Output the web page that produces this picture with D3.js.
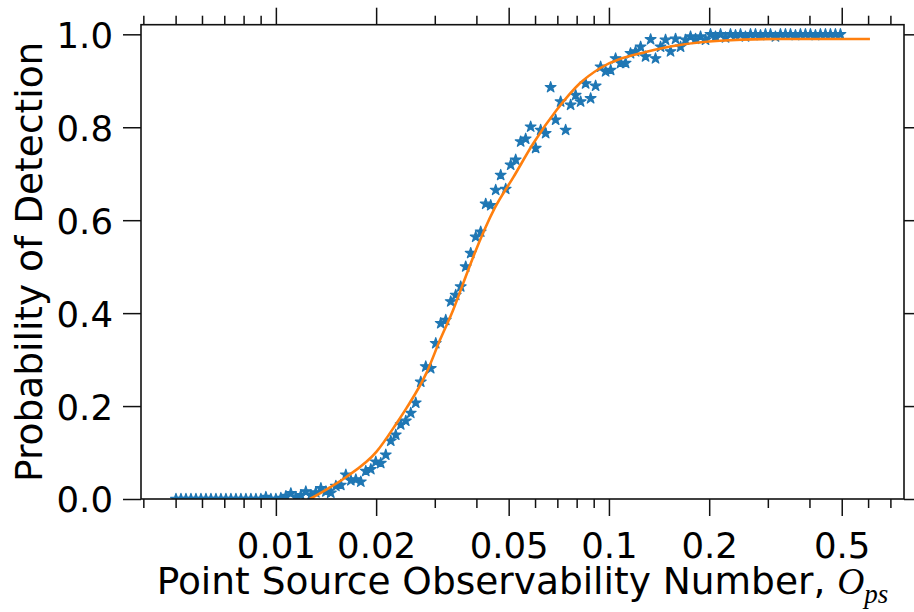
<!DOCTYPE html>
<html><head><meta charset="utf-8">
<script src="https://cdn.jsdelivr.net/npm/d3@7"></script>
<style>body{margin:0;background:#fff} svg text{font-family:"DejaVu Sans",sans-serif;fill:#000}</style>
</head><body><svg id="c" width="914" height="612"></svg>
<script>
// observed detection probability (stars)
const obsX = [0.005012,0.005188,0.005370,0.005559,0.005754,0.005957,0.006166,0.006383,0.006607,0.006839,
0.007079,0.007328,0.007586,0.007852,0.008128,0.008414,0.008710,0.009016,0.009333,0.009661,
0.01000,0.01035,0.01072,0.01109,0.01148,0.01189,0.01230,0.01274,0.01318,0.01365,
0.01413,0.01462,0.01514,0.01567,0.01622,0.01679,0.01738,0.01799,0.01862,0.01928,
0.01995,0.02065,0.02138,0.02213,0.02291,0.02371,0.02455,0.02541,0.02630,0.02723,
0.02818,0.02917,0.03020,0.03126,0.03236,0.03350,0.03467,0.03589,0.03715,0.03846,
0.03981,0.04121,0.04266,0.04416,0.04571,0.04732,0.04898,0.05070,0.05248,0.05433,
0.05623,0.05821,0.06026,0.06237,0.06457,0.06683,0.06918,0.07161,0.07413,0.07674,
0.07943,0.08222,0.08511,0.08811,0.09120,0.09441,0.09772,0.1012,0.1047,0.1084,
0.1122,0.1161,0.1202,0.1245,0.1288,0.1334,0.1380,0.1429,0.1479,0.1531,
0.1585,0.1641,0.1698,0.1758,0.1820,0.1884,0.1950,0.2018,0.2089,0.2163,
0.2239,0.2317,0.2399,0.2483,0.2570,0.2661,0.2754,0.2851,0.2951,0.3055,
0.3162,0.3273,0.3388,0.3508,0.3631,0.3758,0.3890,0.4027,0.4169,0.4315,
0.4467,0.4624,0.4786,0.4955];
const obsY = [0,0,0,0,0,0,0,0,0,0,
0,0,0,0,0,0,0,0,0.004,0,
0,0.002,0.006,0.012,0.004,0.008,0.016,0.008,0.014,0.023,
0.016,0.013,0.028,0.030,0.052,0.040,0.042,0.037,0.060,0.064,
0.080,0.077,0.095,0.125,0.138,0.160,0.168,0.185,0.207,0.252,
0.285,0.281,0.335,0.378,0.385,0.425,0.439,0.457,0.500,0.529,
0.564,0.575,0.635,0.632,0.665,0.697,0.667,0.719,0.730,0.769,
0.775,0.801,0.755,0.794,0.787,0.886,0.816,0.855,0.794,0.848,
0.869,0.855,0.894,0.862,0.889,0.930,0.920,0.923,0.948,0.938,
0.938,0.959,0.963,0.973,0.952,0.989,0.948,0.973,0.988,0.963,
0.990,0.973,0.988,0.995,0.990,0.995,0.988,1.0,0.995,1.0,
0.993,1.0,0.998,1.0,0.995,1.0,1.0,0.998,1.0,1.0,
0.995,1.0,1.0,1.0,0.998,1.0,1.0,1.0,0.998,1.0,
1.0,1.0,1.0,1.0];
// fitted curve (orange line)
const fitX = [0.01265,0.0143,0.01631,0.02006,0.02304,0.02469,0.02835,0.03109,0.03406,0.03651,
0.03913,0.04547,0.05161,0.05925,0.06965,0.08181,0.09397,0.1298,0.1633,0.2154,0.3263,0.6077];
const fitY = [0,0.022,0.048,0.102,0.163,0.196,0.272,0.342,0.4067,0.464,
0.521,0.627,0.692,0.765,0.837,0.8946,0.927,0.9626,0.977,0.986,0.990,0.990];

const xTickValues = [0.01,0.02,0.05,0.1,0.2,0.5];
const xTickLabels = ["0.01","0.02","0.05","0.1","0.2","0.5"];
const xMinorValues = [0.004,0.005,0.006,0.007,0.008,0.009,0.03,0.04,0.06,0.07,0.08,0.09,0.3,0.4,0.6,0.7];
const yTickValues = [0,0.2,0.4,0.6,0.8,1.0];
const yTickLabels = ["0.0","0.2","0.4","0.6","0.8","1.0"];
const xLabelText = "Point Source Observability Number, ";
const yLabelText = "Probability of Detection";

const L = 141, R = 904, T = 24.7, B = 499;
const svg = d3.select("#c");
const x = d3.scaleLog().domain([0.003936, 0.769]).range([L, R]);
const y = d3.scaleLinear().domain([0, 1.0207]).range([B, T]);

svg.append("defs").append("clipPath").attr("id","clip")
  .append("rect").attr("x",L).attr("y",T).attr("width",R-L).attr("height",B-T);

const plot = svg.append("g").attr("clip-path","url(#clip)");
const star = d3.symbol().type(d3.symbolStar).size(36);
plot.selectAll("path.s").data(obsX.map((v,i)=>[v,obsY[i]])).join("path")
  .attr("class","s")
  .attr("transform",d=>`translate(${x(d[0])},${y(d[1])})`)
  .attr("d",star)
  .attr("fill","#1f77b4").attr("stroke","#1f77b4").attr("stroke-width",1.2).attr("stroke-linejoin","round");

const line = d3.line().x(d=>x(d[0])).y(d=>y(d[1])).curve(d3.curveMonotoneX);
plot.append("path").datum(fitX.map((v,i)=>[v,fitY[i]]))
  .attr("d",line).attr("fill","none").attr("stroke","#ff7f0e").attr("stroke-width",2.6);

function styleAxis(g){
  g.select(".domain").remove();
  g.selectAll(".tick line").attr("stroke","#111").attr("stroke-width",1.5);
  g.selectAll("text").style("font-size","35.5px").attr("fill","#000");
}
// bottom
const bMaj = svg.append("g").attr("transform",`translate(0,${B})`)
  .call(d3.axisBottom(x).tickValues(xTickValues).tickFormat((d,i)=>xTickLabels[i]).tickSize(17).tickSizeOuter(0));
styleAxis(bMaj);
bMaj.selectAll("text").attr("y",59).attr("dy",0);
const bMin = svg.append("g").attr("transform",`translate(0,${B})`)
  .call(d3.axisBottom(x).tickValues(xMinorValues).tickFormat("").tickSize(9).tickSizeOuter(0));
styleAxis(bMin);
// top
const tMaj = svg.append("g").attr("transform",`translate(0,${T})`)
  .call(d3.axisTop(x).tickValues(xTickValues).tickFormat("").tickSize(17).tickSizeOuter(0));
styleAxis(tMaj);
const tMin = svg.append("g").attr("transform",`translate(0,${T})`)
  .call(d3.axisTop(x).tickValues(xMinorValues).tickFormat("").tickSize(9).tickSizeOuter(0));
styleAxis(tMin);
// left
const lAx = svg.append("g").attr("transform",`translate(${L},0)`)
  .call(d3.axisLeft(y).tickValues(yTickValues).tickFormat((d,i)=>yTickLabels[i]).tickSize(18).tickPadding(10).tickSizeOuter(0));
styleAxis(lAx);
lAx.selectAll("text").attr("dy","0.365em");
// right
const rAx = svg.append("g").attr("transform",`translate(${R},0)`)
  .call(d3.axisRight(y).tickValues(yTickValues).tickFormat("").tickSize(17).tickSizeOuter(0));
styleAxis(rAx);

// spines
svg.append("rect").attr("x",L).attr("y",T).attr("width",R-L).attr("height",B-T)
  .attr("fill","none").attr("stroke","#111").attr("stroke-width",1.6);

// labels
svg.append("text").attr("transform",`translate(42,${(T+B)/2}) rotate(-90)`)
  .attr("text-anchor","middle").style("font-size","37.5px").text(yLabelText);
const xl = svg.append("text").attr("x",(L+R)/2).attr("y",594).attr("text-anchor","middle").style("font-size","37.5px");
xl.append("tspan").text(xLabelText);
xl.append("tspan").style("font-family","'Liberation Serif',serif").style("font-style","italic").text("O");
xl.append("tspan").style("font-family","'Liberation Serif',serif").style("font-style","italic")
  .style("font-size","27px").attr("dy",9).text("ps");
</script></body></html>
